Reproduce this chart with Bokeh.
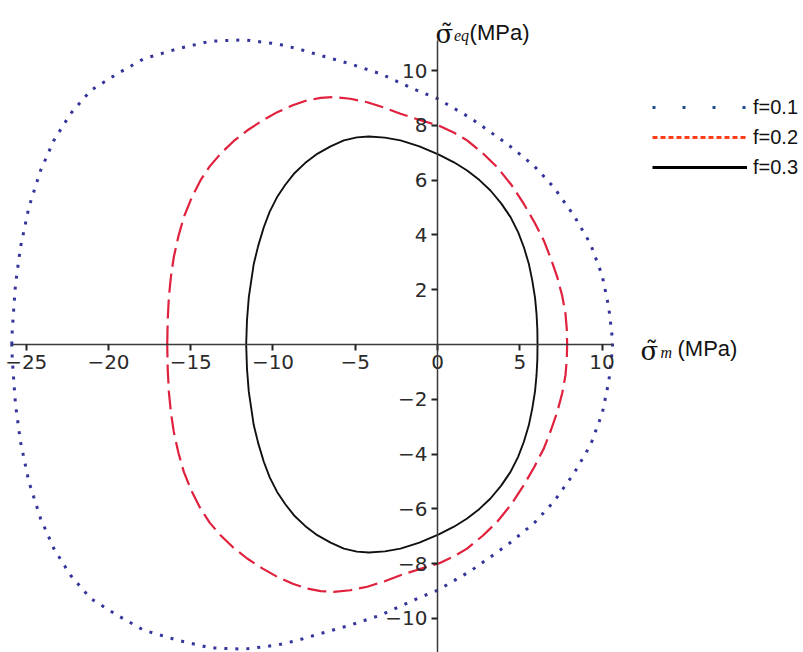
from bokeh.plotting import figure
from bokeh.models import (FixedTicker, Range1d, Label, Legend, LegendItem,
                          ColumnDataSource)
from bokeh.embed import file_html
from bokeh.resources import INLINE

# ---------------- data (upper half of each closed surface) ----
f01_x = [-25.88, -25.85, -25.75, -25.65, -25.35, -24.84, -24.13, -23.32, -22.31,
         -21.09, -19.47, -17.85, -15.82, -13.8, -11.77, -9.74, -8.4, -7.11, -5.29,
         -3.47, -1.23, 0.0, 2.0, 4.24, 5.85, 7.07, 8.29, 9.3, 10.01, 10.41, 10.62, 10.64]
f01_y = [0.0, 0.51, 1.4, 2.21, 3.55, 5.01, 6.35, 7.45, 8.42,
         9.27, 9.88, 10.43, 10.79, 11.07, 11.12, 10.97, 10.78, 10.55, 10.24,
         9.88, 9.27, 8.97, 8.27, 7.32, 6.53, 5.74, 4.71, 3.67, 2.52, 1.36, 0.27, 0.0]

f02_x = [-16.43, -16.4, -16.33, -16.2, -16.03, -15.75, -15.42, -14.95, -14.41, -13.85,
         -13.19, -12.4, -11.57, -10.65, -9.74, -8.8, -7.92, -7.1, -6.3, -5.3, -4.27,
         -3.25, -2.25, -1.1, 0.08, 0.95, 1.8, 2.75, 3.63, 4.5, 5.25, 5.9, 6.46, 6.9,
         7.28, 7.58, 7.78, 7.86, 7.88]
f02_y = [0.0, 0.9, 1.73, 2.5, 3.19, 3.95, 4.65, 5.35, 5.99, 6.5,
         6.96, 7.42, 7.81, 8.17, 8.48, 8.73, 8.91, 9.0, 9.03, 8.97, 8.84,
         8.65, 8.42, 8.2, 7.99, 7.75, 7.45, 6.98, 6.47, 5.82, 5.13, 4.45, 3.8, 3.12,
         2.46, 1.78, 1.12, 0.55, 0.0]

f03_x = [-11.63, -11.58, -11.47, -11.17, -10.9, -10.56, -10.2, -9.75, -9.25, -8.73,
         -8.05, -7.31, -6.5, -5.69, -4.9, -4.17, -3.2, -2.25, -1.1, 0.08, 1.0, 1.8,
         2.55, 3.22, 3.87, 4.44, 4.9, 5.25, 5.55, 5.76, 5.93, 6.02, 6.07, 6.08]
f03_y = [0.0, 0.9, 1.73, 2.94, 3.6, 4.28, 4.85, 5.38, 5.83, 6.23,
         6.62, 6.96, 7.23, 7.45, 7.56, 7.59, 7.55, 7.45, 7.23, 6.93, 6.65, 6.35,
         6.0, 5.62, 5.15, 4.65, 4.1, 3.55, 2.95, 2.34, 1.7, 1.12, 0.55, 0.0]

legend_labels = ["f=0.1", "f=0.2", "f=0.3"]

x_ticks = [-25, -20, -15, -10, -5, 0, 5, 10]
x_tick_labels = ["\u221225", "\u221220", "\u221215", "\u221210", "\u22125", "0", "5", "10"]
y_ticks = [-10, -8, -6, -4, -2, 2, 4, 6, 8, 10]
y_tick_labels = ["\u221210", "\u22128", "\u22126", "\u22124", "\u22122", "2", "4", "6", "8", "10"]


def closed(xs, ys):
    # upper half followed by its mirror image (surface symmetric in sigma_eq)
    return xs + xs[::-1][1:], ys + [-v for v in ys[::-1][1:]]


W, H = 803, 652
p = figure(width=W, height=H, output_backend="svg", toolbar_location=None,
           x_range=Range1d(-26.565, 22.249), y_range=Range1d(-11.241, 12.555),
           min_border=0, outline_line_color=None)
p.grid.visible = False
p.background_fill_color = "white"

cx, cy = closed(f01_x, f01_y)
p.line(cx, cy, line_color="#34349a", line_width=3.0, line_dash="3 8")
cx, cy = closed(f02_x, f02_y)
p.line(cx, cy, line_color="#e0203c", line_width=2.2, line_dash="19 7")
cx, cy = closed(f03_x, f03_y)
p.line(cx, cy, line_color="#111111", line_width=1.9)

# axes through the origin
for ax in (p.xaxis[0], p.yaxis[0]):
    ax.fixed_location = 0
    ax.axis_line_color = "#3a3a3a"
    ax.axis_line_width = 1.5
    ax.major_tick_line_color = "#222222"
    ax.major_tick_line_width = 2
    ax.major_tick_out = 6
    ax.major_tick_in = 0
    ax.minor_tick_line_color = None
    ax.major_label_text_font = "DejaVu Sans"
    ax.major_label_text_font_size = "20px"
    ax.major_label_text_color = "#2a2a2a"
    ax.major_label_standoff = 4

p.xaxis[0].ticker = FixedTicker(ticks=x_ticks)
p.xaxis[0].major_label_overrides = dict(zip(x_ticks, x_tick_labels))
p.xaxis[0].bounds = (-25.85, 10.62)
p.yaxis[0].ticker = FixedTicker(ticks=y_ticks)
p.yaxis[0].major_label_overrides = dict(zip(y_ticks, y_tick_labels))
p.yaxis[0].bounds = (-11.6, 11.09)

# axis titles
def lab(x, y, t, font, size, style="normal"):
    p.add_layout(Label(x=x, y=y, text=t, text_font=font, text_font_size=size,
                       text_font_style=style, text_color="#111111",
                       text_align="left", text_baseline="alphabetic"))

lab(-0.12, 11.35, "\u03c3\u0303", "DejaVu Serif", "26px")
lab(1.0, 11.26, "eq", "Liberation Serif", "16px", "italic")
lab(1.95, 11.39, "(MPa)", "Liberation Sans", "22px")

lab(12.34, -0.22, "\u03c3\u0303", "DejaVu Serif", "26px")
lab(13.55, -0.31, "m", "Liberation Serif", "16px", "italic")
lab(14.59, -0.146, "(MPa)", "Liberation Sans", "22px")

# legend with its own sample styles (renderers hold no visible points)
nan = float("nan")
r1 = p.line("x", "y", source=ColumnDataSource(dict(x=[nan], y=[nan])),
            line_color="#1f4e8c", line_width=3, line_dash="3 27")
r2 = p.line("x", "y", source=ColumnDataSource(dict(x=[nan], y=[nan])),
            line_color="#ff3d1a", line_width=3, line_dash="5 3")
r3 = p.line("x", "y", source=ColumnDataSource(dict(x=[nan], y=[nan])),
            line_color="#000000", line_width=3)
legend = Legend(items=[LegendItem(label=legend_labels[0], renderers=[r1]),
                       LegendItem(label=legend_labels[1], renderers=[r2]),
                       LegendItem(label=legend_labels[2], renderers=[r3])],
                location=(652, 473), glyph_width=95, glyph_height=24,
                label_height=24, label_standoff=6, spacing=6, padding=0,
                margin=0, border_line_color=None, background_fill_alpha=0,
                label_text_font="Liberation Sans", label_text_font_size="20px",
                label_text_color="#111111")
p.add_layout(legend, "center")

open("out.html", "w").write(file_html(p, INLINE))
